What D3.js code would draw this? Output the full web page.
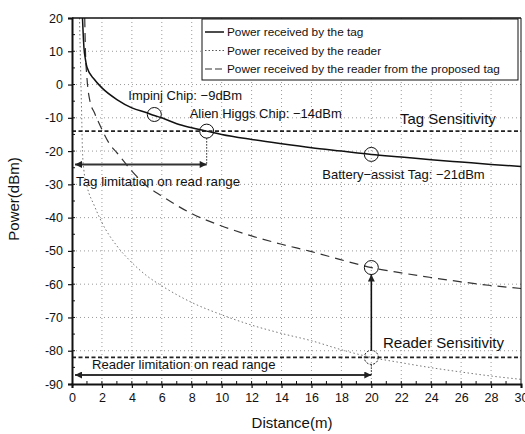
<!DOCTYPE html>
<html>
<head>
<meta charset="utf-8">
<script src="https://cdn.jsdelivr.net/npm/d3@7"></script>
<style>
  body { margin: 0; background: #fff; }
  svg text { font-family: "Liberation Sans", Arial, sans-serif; fill: #111; }
</style>
</head>
<body>
<svg id="chart" width="525" height="434"></svg>
<script>
// values
var tagDist  = [0.7, 0.75, 0.8, 0.9, 1, 1.5, 2, 3, 4, 5, 5.5, 6, 7, 8, 9, 10, 12, 14, 16, 18, 20, 22, 24, 26, 28, 30];
var tagPower = [20, 15, 11, 7.5, 5.2, 1.5, -1, -4.5, -7, -8.5, -9.3, -10, -11.8, -13, -14, -15, -16.5, -17.8, -19, -20, -21, -21.8, -22.6, -23.3, -24, -24.6];

var readerDist  = [0.5, 0.55, 0.6, 0.65, 0.7, 0.8, 1, 1.5, 2, 3, 4, 5, 6, 8, 10, 12, 14, 16, 18, 20, 22, 24, 26, 28, 30];
var readerPower = [20, 10, 0, -10, -20, -26, -30.5, -36.5, -41.5, -48.5, -53.5, -57.5, -60.5, -65.5, -69.2, -72.3, -74.8, -77, -79.7, -82, -83.6, -85.1, -86.4, -87.6, -88.6];

var propDist  = [0.85, 0.9, 1, 1.2, 1.5, 2, 2.5, 3, 4, 5, 6, 8, 10, 12, 14, 16, 18, 20, 22, 24, 26, 28, 30];
var propPower = [20, 10, 2, -5, -8.5, -13.5, -17.8, -20.5, -26, -30.5, -33.5, -38.8, -42.5, -45.5, -48, -50.2, -52.7, -55, -56.6, -58, -59.3, -60.4, -61.3];

var xTicks = [0, 2, 4, 6, 8, 10, 12, 14, 16, 18, 20, 22, 24, 26, 28, 30];
var yTicks = [20, 10, 0, -10, -20, -30, -40, -50, -60, -70, -80, -90];

var tagSensitivity = -14;
var readerSensitivity = -82;
var tagLimit = [0, 9, -24];
var readerLimit = [0, 20, -87.3];

var markers = [[5.5, -9], [9, -14], [20, -21], [20, -55], [20, -82]];

var legendLabels = ["Power received by the tag", "Power received by the reader",
  "Power received by the reader from the proposed tag"];

var svg = d3.select("#chart");
var pLeft = 72, pRight = 521, pTop = 18, pBottom = 384;

var x = d3.scaleLinear().domain([0, 30]).range([pLeft, pRight]);
var y = d3.scaleLinear().domain([-90, 20]).range([pBottom, pTop]);

var defs = svg.append("defs");
defs.append("clipPath").attr("id", "plot")
  .append("rect").attr("x", pLeft).attr("y", pTop).attr("width", pRight - pLeft).attr("height", pBottom - pTop);
defs.append("marker").attr("id", "head").attr("viewBox", "0 0 10 10")
  .attr("refX", 10).attr("refY", 5).attr("markerWidth", 10).attr("markerHeight", 7)
  .attr("markerUnits", "userSpaceOnUse").attr("orient", "auto-start-reverse")
  .append("path").attr("d", "M0,0L10,5L0,10Z").attr("fill", "#222");

// grid
svg.append("g").selectAll("line").data(xTicks.slice(1, -1)).enter().append("line")
  .attr("x1", function(d) { return x(d); }).attr("x2", function(d) { return x(d); })
  .attr("y1", pTop).attr("y2", pBottom)
  .attr("stroke", "#9a9a9a").attr("stroke-width", 1).attr("stroke-dasharray", "1,3");
svg.append("g").selectAll("line").data(yTicks.slice(1, -1)).enter().append("line")
  .attr("x1", pLeft).attr("x2", pRight)
  .attr("y1", function(d) { return y(d); }).attr("y2", function(d) { return y(d); })
  .attr("stroke", "#9a9a9a").attr("stroke-width", 1).attr("stroke-dasharray", "1,3");

// curves
function series(ds, ps) { return ds.map(function(d, i) { return [d, ps[i]]; }); }
var line = d3.line().x(function(d) { return x(d[0]); }).y(function(d) { return y(d[1]); })
  .curve(d3.curveMonotoneX);
var curves = svg.append("g").attr("clip-path", "url(#plot)");
curves.append("path").attr("d", line(series(readerDist, readerPower)))
  .attr("fill", "none").attr("stroke", "#777").attr("stroke-width", 1).attr("stroke-dasharray", "1.5,2.5");
curves.append("path").attr("d", line(series(propDist, propPower)))
  .attr("fill", "none").attr("stroke", "#333").attr("stroke-width", 1.2).attr("stroke-dasharray", "9,6");
curves.append("path").attr("d", line(series(tagDist, tagPower)))
  .attr("fill", "none").attr("stroke", "#111").attr("stroke-width", 1.5);

// sensitivity lines
[tagSensitivity, readerSensitivity].forEach(function(v) {
  svg.append("line").attr("x1", pLeft).attr("x2", pRight).attr("y1", y(v)).attr("y2", y(v))
    .attr("stroke", "#222").attr("stroke-width", 1.8).attr("stroke-dasharray", "4,2.5");
});

// limitation arrows
[tagLimit, readerLimit].forEach(function(a) {
  svg.append("line").attr("x1", x(a[0]) + 3).attr("x2", x(a[1])).attr("y1", y(a[2])).attr("y2", y(a[2]))
    .attr("stroke", "#333").attr("stroke-width", 2)
    .attr("marker-start", "url(#head)").attr("marker-end", "url(#head)");
});

// drop lines
svg.append("line").attr("x1", x(tagLimit[1])).attr("x2", x(tagLimit[1]))
  .attr("y1", y(tagSensitivity) + 7).attr("y2", y(tagLimit[2]))
  .attr("stroke", "#222").attr("stroke-width", 1).attr("stroke-dasharray", "1.5,1.5");
svg.append("line").attr("x1", x(readerLimit[1])).attr("x2", x(readerLimit[1]))
  .attr("y1", y(readerSensitivity) + 7).attr("y2", y(readerLimit[2]))
  .attr("stroke", "#222").attr("stroke-width", 1).attr("stroke-dasharray", "1.5,1.5");

// vertical arrow from reader sensitivity up to proposed tag
svg.append("line").attr("x1", x(20)).attr("x2", x(20))
  .attr("y1", y(readerSensitivity) - 7).attr("y2", y(-55) + 7)
  .attr("stroke", "#111").attr("stroke-width", 1.6).attr("marker-end", "url(#head)");

// markers
svg.append("g").selectAll("circle").data(markers).enter().append("circle")
  .attr("cx", function(d) { return x(d[0]); }).attr("cy", function(d) { return y(d[1]); })
  .attr("r", 7).attr("fill", "none").attr("stroke", "#111").attr("stroke-width", 1)
  .attr("stroke-dasharray", function(d) { return d[1] === readerSensitivity ? "2,1.5" : null; });

// annotations
function label(t, px, py, size) {
  svg.append("text").attr("x", px).attr("y", py).attr("font-size", size).text(t);
}
label("Impinj Chip: \u22129dBm", x(5.5) - 26, y(-9) - 14, 13);
label("Alien Higgs Chip: \u221214dBm", x(9) - 17, y(-14) - 13, 13);
label("Battery\u2212assist Tag: \u221221dBm", x(20) - 49, y(-21) + 25, 13);
label("Tag Sensitivity", 400, y(tagSensitivity) - 7, 15);
label("Reader Sensitivity", 383, y(readerSensitivity) - 9.5, 15);
label("Tag limitation on read range", x(0) + 4, y(tagLimit[2]) + 22, 13.3);
label("Reader limitation on read range", x(0) + 20, y(readerLimit[2]) - 6.5, 13.1);

// axes
var xAxis = d3.axisBottom(x).tickValues(xTicks).tickSize(4).tickPadding(5).tickFormat(d3.format("d"));
var gx = svg.append("g").attr("transform", "translate(0," + pBottom + ")").call(xAxis);
var yAxis = d3.axisLeft(y).tickValues(yTicks).tickSize(4).tickPadding(5)
  .tickFormat(function(d) { return d < 0 ? "-" + Math.abs(d) : d; });
var gy = svg.append("g").attr("transform", "translate(" + pLeft + ",0)").call(yAxis);
[gx, gy].forEach(function(g) {
  g.select(".domain").attr("stroke", "#111").attr("stroke-width", 2);
  g.selectAll(".tick line").attr("stroke", "#111").attr("stroke-width", 1.2);
  g.selectAll(".tick text").attr("font-size", 12.5).attr("fill", "#111")
    .style("font-family", "'Liberation Sans', Arial, sans-serif");
});
// minor ticks inward
svg.append("g").selectAll("line").data(d3.range(1, 30, 1)).enter().append("line")
  .attr("x1", function(d) { return x(d); }).attr("x2", function(d) { return x(d); })
  .attr("y1", pBottom).attr("y2", pBottom - 3).attr("stroke", "#111");
svg.append("g").selectAll("line").data(d3.range(-85, 20, 5)).enter().append("line")
  .attr("x1", pLeft).attr("x2", pLeft + 3)
  .attr("y1", function(d) { return y(d); }).attr("y2", function(d) { return y(d); }).attr("stroke", "#111");

// frame top/right
svg.append("line").attr("x1", pLeft).attr("x2", pRight).attr("y1", pTop).attr("y2", pTop)
  .attr("stroke", "#111").attr("stroke-width", 1.5);
svg.append("line").attr("x1", pRight).attr("x2", pRight).attr("y1", pTop).attr("y2", pBottom)
  .attr("stroke", "#111").attr("stroke-width", 1);

// axis titles
svg.append("text").attr("x", 292).attr("y", 428).attr("text-anchor", "middle")
  .attr("font-size", 15).text("Distance(m)");
svg.append("text").attr("transform", "translate(19,199) rotate(-90)").attr("text-anchor", "middle")
  .attr("font-size", 15).text("Power(dBm)");

// legend
var lg = svg.append("g");
lg.append("rect").attr("x", 202).attr("y", 19).attr("width", 316).attr("height", 61)
  .attr("fill", "#fff").attr("stroke", "#111").attr("stroke-width", 1);
var styles = [
  { dash: null, color: "#111", w: 1.5 },
  { dash: "1.5,2", color: "#555", w: 1 },
  { dash: "7,3", color: "#333", w: 1.2 }
];
legendLabels.forEach(function(t, i) {
  var ly = 32 + i * 18.5;
  lg.append("line").attr("x1", 205).attr("x2", 224).attr("y1", ly).attr("y2", ly)
    .attr("stroke", styles[i].color).attr("stroke-width", styles[i].w)
    .attr("stroke-dasharray", styles[i].dash);
  lg.append("text").attr("x", 227).attr("y", ly + 4).attr("font-size", 11.8).text(t);
});
</script>
</body>
</html>
